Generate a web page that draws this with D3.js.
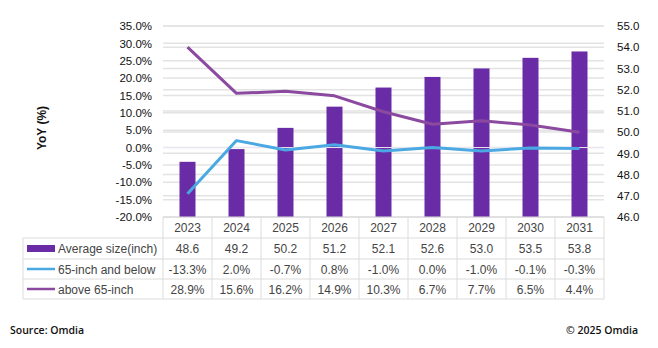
<!DOCTYPE html>
<html><head><meta charset="utf-8">
<script src="https://cdn.jsdelivr.net/npm/d3@7"></script>
<style>body{margin:0;background:#fff;} svg{display:block;}</style>
</head><body>
<svg id="c" width="658" height="348"></svg>
<script>
const years = ["2023","2024","2025","2026","2027","2028","2029","2030","2031"];
const avgSize = [48.6,49.2,50.2,51.2,52.1,52.6,53.0,53.5,53.8];
const below65 = [-13.3,2.0,-0.7,0.8,-1.0,0.0,-1.0,-0.1,-0.3];
const above65 = [28.9,15.6,16.2,14.9,10.3,6.7,7.7,6.5,4.4];
const leftTicks = [-20,-15,-10,-5,0,5,10,15,20,25,30,35];
const rightTicks = [46,47,48,49,50,51,52,53,54,55];
const seriesNames = ["Average size(inch)","65-inch and below","above 65-inch"];

const svg = d3.select("#c");
const font = "'Liberation Sans', Arial, sans-serif";
const x = d3.scaleBand().domain(years).range([163,604]);
const yL = d3.scaleLinear().domain([-20,35]).range([217,26]);
const yR = d3.scaleLinear().domain([46,55]).range([217,26]);

const barCol = "#6a2ca6", blueCol = "#4aa8e2", purpCol = "#8b4a9f", gridCol = "#e3e3e3", tblCol = "#dcdcdc";

// gridlines
svg.append("g").selectAll("line").data(leftTicks).join("line")
  .attr("x1",163).attr("x2",604).attr("y1",d=>yL(d)).attr("y2",d=>yL(d))
  .attr("stroke",gridCol).attr("stroke-width",1.5);
svg.append("g").selectAll("line").data(rightTicks).join("line")
  .attr("x1",163).attr("x2",604).attr("y1",d=>yR(d)).attr("y2",d=>yR(d))
  .attr("stroke",gridCol).attr("stroke-width",1.5);

// axes
const axL = svg.append("g").attr("transform","translate(152,0)")
  .call(d3.axisLeft(yL).tickValues(leftTicks).tickFormat(d=>d.toFixed(1)+"%").tickSize(0).tickPadding(0));
const axR = svg.append("g").attr("transform","translate(617,0)")
  .call(d3.axisRight(yR).tickValues(rightTicks).tickFormat(d=>d.toFixed(1)).tickSize(0).tickPadding(0));
[axL,axR].forEach(a=>{a.select(".domain").remove();
  a.selectAll("text").attr("font-family",font).attr("font-size",11.5).attr("fill","#111");});

// bars
const bw = 16;
svg.append("g").selectAll("rect").data(avgSize).join("rect")
  .attr("x",(d,i)=>x(years[i])+x.bandwidth()/2-bw/2)
  .attr("width",bw)
  .attr("y",d=>yR(d)).attr("height",d=>217-yR(d))
  .attr("fill",barCol);

// zero line over bars
svg.append("line").attr("x1",163).attr("x2",604).attr("y1",yL(0)).attr("y2",yL(0))
  .attr("stroke","#ece6f2").attr("stroke-width",1);

// lines
const line = d3.line().x((d,i)=>x(years[i])+x.bandwidth()/2).y(d=>yL(d));
svg.append("path").datum(above65).attr("d",line).attr("fill","none").attr("stroke",purpCol).attr("stroke-width",3).attr("stroke-linejoin","round");
svg.append("path").datum(below65).attr("d",line).attr("fill","none").attr("stroke",blueCol).attr("stroke-width",3).attr("stroke-linejoin","round");

// y title
svg.append("text").attr("transform","translate(46,128) rotate(-90)")
  .attr("text-anchor","middle").attr("font-family",font).attr("font-weight","bold")
  .attr("font-size",12).attr("fill","#111").text("YoY (%)");

// table
const rowY = [217,238,259,279,299];
const t = svg.append("g");
t.append("line").attr("x1",163).attr("x2",604).attr("y1",217).attr("y2",217).attr("stroke",tblCol);
[238,259,279,299].forEach(yy=>t.append("line").attr("x1",23).attr("x2",604).attr("y1",yy).attr("y2",yy).attr("stroke",tblCol));
years.forEach(yr=>t.append("line").attr("x1",x(yr)).attr("x2",x(yr)).attr("y1",217).attr("y2",299).attr("stroke",tblCol));
t.append("line").attr("x1",604).attr("x2",604).attr("y1",217).attr("y2",299).attr("stroke",tblCol);
t.append("line").attr("x1",23).attr("x2",23).attr("y1",238).attr("y2",299).attr("stroke",tblCol);

t.selectAll("text.yr").data(years).join("text").attr("class","yr")
  .attr("x",d=>x(d)+x.bandwidth()/2).attr("y",232).attr("text-anchor","middle")
  .attr("font-family",font).attr("font-size",12).attr("fill","#444").text(d=>d);

const rows = [
  {name:seriesNames[0], vals:avgSize.map(v=>v.toFixed(1)), kind:"bar", col:barCol},
  {name:seriesNames[1], vals:below65.map(v=>v.toFixed(1)+"%"), kind:"line", col:blueCol},
  {name:seriesNames[2], vals:above65.map(v=>v.toFixed(1)+"%"), kind:"line", col:purpCol}
];
rows.forEach((r,ri)=>{
  const top = rowY[ri+1], bot = rowY[ri+2], mid = (top+bot)/2;
  if(r.kind==="bar") t.append("rect").attr("x",27).attr("y",mid-3.5).attr("width",28).attr("height",7).attr("fill",r.col);
  else t.append("line").attr("x1",27).attr("x2",55).attr("y1",mid).attr("y2",mid).attr("stroke",r.col).attr("stroke-width",2.5);
  t.append("text").attr("x",58).attr("y",mid+4.5).attr("font-family",font).attr("font-size",12).attr("fill","#444").text(r.name);
  r.vals.forEach((v,i)=>t.append("text").attr("x",x(years[i])+x.bandwidth()/2).attr("y",mid+4.5)
    .attr("text-anchor","middle").attr("font-family",font).attr("font-size",12).attr("fill","#444").text(v));
});

svg.append("text").attr("x",10).attr("y",334).attr("font-family","'Open Sans', sans-serif").attr("font-weight",600)
  .attr("font-size",10.5).attr("fill","#111").text("Source: Omdia");
svg.append("text").attr("x",638).attr("y",334).attr("text-anchor","end").attr("font-family","'Open Sans', sans-serif").attr("font-weight",600)
  .attr("font-size",10.5).attr("fill","#111").text("© 2025 Omdia");
</script>
</body></html>
